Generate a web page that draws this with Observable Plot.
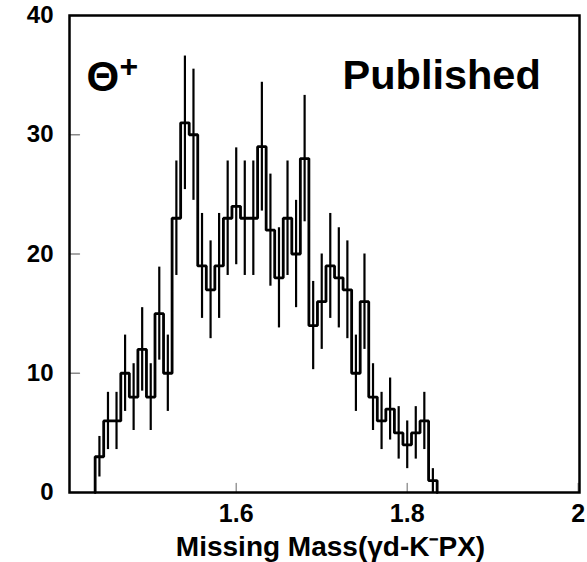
<!DOCTYPE html>
<html>
<head>
<meta charset="utf-8">
<script src="https://cdn.jsdelivr.net/npm/d3@7"></script>
<script src="https://cdn.jsdelivr.net/npm/@observablehq/plot@0.6"></script>
<style>
  html, body { margin: 0; padding: 0; background: #fff; }
  svg { display: block; }
</style>
</head>
<body>
<div id="chart"></div>
<script>
// Bin centres (GeV), bin width 0.01
const binCenters = [1.44,1.45,1.46,1.47,1.48,1.49,1.50,1.51,1.52,1.53,
                    1.54,1.55,1.56,1.57,1.58,1.59,1.60,1.61,1.62,1.63,
                    1.64,1.65,1.66,1.67,1.68,1.69,1.70,1.71,1.72,1.73,
                    1.74,1.75,1.76,1.77,1.78,1.79,1.80,1.81,1.82,1.83];
const binWidth = 0.01;
const counts = [3,6,6,10,8,12,8,15,10,23,
                31,30,19,17,19,23,24,23,23,29,
                22,18,23,20,28,14,16,19,18,17,
                10,16,8,6,7,5,4,5,6,1];
const errors = [1.7,2.4,2.4,3.2,2.8,3.5,2.8,3.9,3.2,4.8,
                5.6,5.5,4.4,4.1,4.4,4.8,4.9,4.8,4.8,5.4,
                4.7,4.2,4.8,4.5,5.3,3.7,4.0,4.4,4.2,4.1,
                3.2,4.0,2.8,2.4,2.6,2.2,2.0,2.2,2.4,1.0];
const xTicks = [1.6, 1.8, 2.0];
const yTicks = [0, 10, 20, 30, 40];
const xDomain = [1.405, 2.0015];
const yDomain = [0, 40];
const xLabel = "Missing Mass(\u03B3d-K\u207BPX)";
const particleLabel = "\u0398";
const particleCharge = "+";
const tagLabel = "Published";

const bins = binCenters.map((c, i) => ({center: c, count: counts[i], err: errors[i]}));
const steps = [{x: binCenters[0] - binWidth / 2, y: 0}]
  .concat(bins.map(b => ({x: b.center - binWidth / 2, y: b.count})))
  .concat([{x: binCenters[binCenters.length - 1] + binWidth / 2, y: 0}]);

const font = "'Liberation Sans', Arial, Helvetica, sans-serif";
const spike = {draw(context, l) { context.moveTo(0, 0); context.lineTo(0, -l); }};

const chart = Plot.plot({
  width: 587,
  height: 562,
  marginLeft: 69,
  marginRight: 8,
  marginTop: 15,
  marginBottom: 70,
  style: {fontFamily: font, background: "#fff", color: "#000"},
  x: {domain: xDomain, axis: null},
  y: {domain: yDomain, axis: null},
  marks: [
    // inward ticks
    Plot.vector(xTicks, {x: d => d, y: yDomain[0], length: 9, rotate: 0, anchor: "start", shape: spike, stroke: "#8a8a8a", strokeWidth: 1.3}),
    Plot.vector(yTicks, {x: xDomain[0], y: d => d, length: 10, rotate: 90, anchor: "start", shape: spike, stroke: "#8a8a8a", strokeWidth: 1.3}),
    // tick labels
    Plot.axisX(xTicks, {anchor: "bottom", tickSize: 0, tickPadding: 12, fontSize: 25, fontWeight: "bold", label: null, tickFormat: d => d === 2 ? "2" : d.toFixed(1)}),
    Plot.axisY(yTicks, {anchor: "left", tickSize: 0, tickPadding: 16, fontSize: 24, fontWeight: "bold", label: null}),
    // error bars
    Plot.ruleX(bins, {x: "center", y1: d => Math.max(0, d.count - d.err), y2: d => d.count + d.err, stroke: "#000", strokeWidth: 2.2}),
    // histogram steps
    Plot.line(steps, {x: "x", y: "y", curve: "step-after", stroke: "#000", strokeWidth: 2.8, strokeLinejoin: "miter"}),
    Plot.frame({stroke: "#000", strokeWidth: 2.5}),
    // annotations
    Plot.text([particleLabel], {frameAnchor: "top-left", dx: 17, dy: 75, text: d => d, textAnchor: "start", lineAnchor: "bottom", fontSize: 42, fontWeight: "bold", fill: "#000"}),
    Plot.text([particleCharge], {frameAnchor: "top-left", dx: 50, dy: 61, text: d => d, textAnchor: "start", lineAnchor: "bottom", fontSize: 32, fontWeight: "bold", fill: "#000"}),
    Plot.text([tagLabel], {frameAnchor: "top-left", dx: 273, dy: 73, text: d => d, textAnchor: "start", lineAnchor: "bottom", fontSize: 41.5, fontWeight: "bold", fill: "#000"}),
    Plot.text([xLabel], {frameAnchor: "bottom", dx: 6, dy: 55, text: d => d, textAnchor: "middle", lineAnchor: "middle", fontSize: 28, fontWeight: "bold", fill: "#000"})
  ]
});
document.getElementById("chart").appendChild(chart);
</script>
</body>
</html>
